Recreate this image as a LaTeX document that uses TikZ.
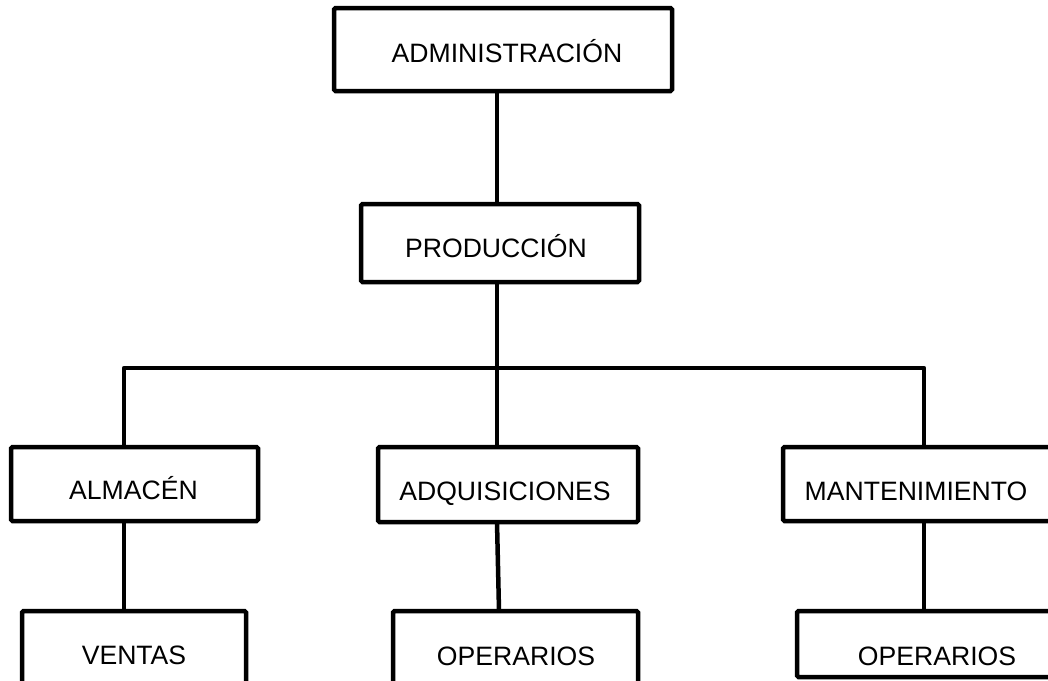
\documentclass[tikz,border=0pt]{standalone}
\usepackage{fontspec}
\setmainfont{Liberation Sans}
\begin{document}
\begin{tikzpicture}[x=1pt,y=-1pt,
  boxnode/.style={draw=black, line width=4.5pt, rectangle, rounded corners=1.5pt, inner sep=0pt, outer sep=0pt},
  lbl/.style={anchor=base, inner sep=0pt, font=\fontsize{26.6}{30}\selectfont},
  conn/.style={draw=black, line width=4.5pt}]
\clip (0,0) rectangle (1048,680);
\fill[white] (0,0) rectangle (1048,680);
% boxes
\node[boxnode, minimum width=338pt, minimum height=83pt] (admin) at (503,49.5) {};
\node[boxnode, minimum width=278pt, minimum height=78pt] (prod) at (500,243) {};
\node[boxnode, minimum width=247pt, minimum height=74pt] (alm) at (134.5,484) {};
\node[boxnode, minimum width=260pt, minimum height=75pt] (adq) at (508,484.5) {};
\node[boxnode, minimum width=287pt, minimum height=74pt] (mant) at (926.5,484) {};
\node[boxnode, minimum width=224pt, minimum height=89pt] (ventas) at (134,655.5) {};
\node[boxnode, minimum width=245pt, minimum height=89pt] (oper1) at (515.5,655.5) {};
\node[boxnode, minimum width=273pt, minimum height=66pt] (oper2) at (933.5,644) {};
% texts
\node[lbl] (tadmin) at (507,62) {ADMINISTRACIÓN};
\node[lbl] (tprod) at (496,257) {PRODUCCIÓN};
\node[lbl] (talm) at (133.5,499.5) {ALMACÉN};
\node[lbl] (tadq) at (505,500) {ADQUISICIONES};
\node[lbl] (tmant) at (916,500) {MANTENIMIENTO};
\node[lbl] (tventas) at (134,664) {VENTAS};
\node[lbl] (toper1) at (516,665) {OPERARIOS};
\node[lbl] (toper2) at (937,665) {OPERARIOS};
% junction coordinates
\coordinate (j) at (497,368);
\coordinate (bl) at (124,368);
\coordinate (br) at (924,368);
% connectors
\draw[conn] (admin.south -| j) -- (prod.north -| j);
\draw[conn] (prod.south -| j) -- (j);
\draw[conn, line join=round] (alm.north -| bl) -- (bl) -- (br) -- (mant.north -| br);
\draw[conn] (j) -- (adq.north -| j);
\draw[conn] (alm.south -| bl) -- (ventas.north -| bl);
\draw[conn] (adq.south -| j) -- ([xshift=2pt]oper1.north -| j);
\draw[conn] (mant.south -| br) -- (oper2.north -| br);
\end{tikzpicture}
\end{document}
